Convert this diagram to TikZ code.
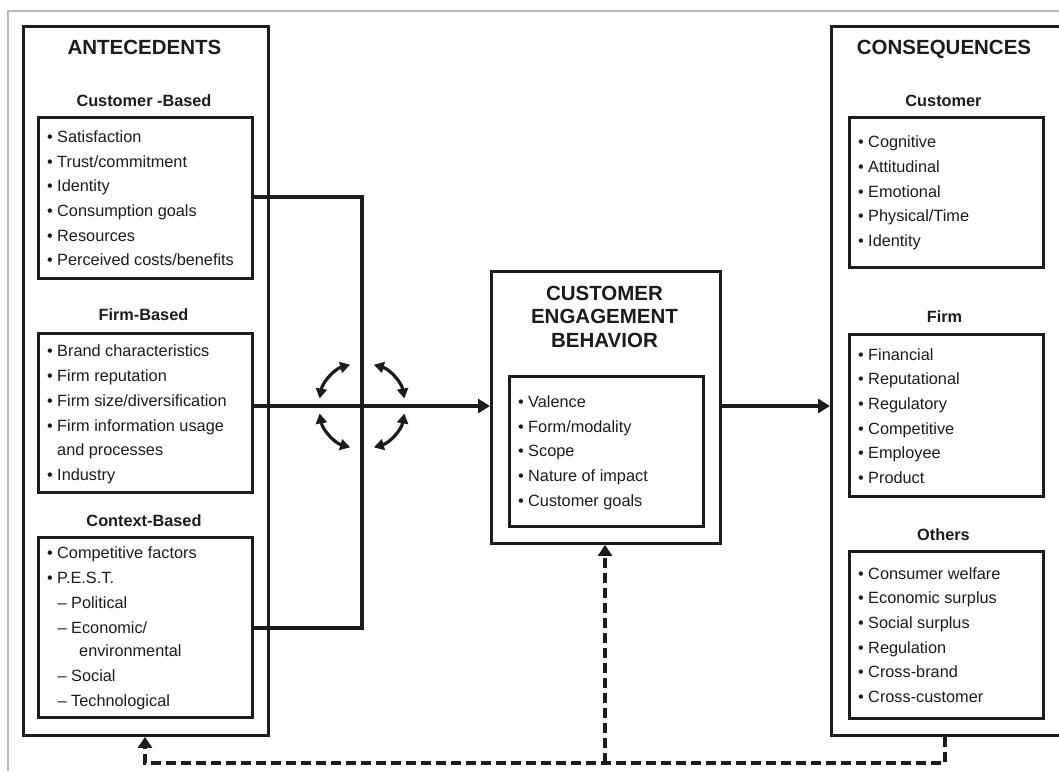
\documentclass[tikz,border=0pt]{standalone}
\usepackage{fontspec}
\setmainfont{Liberation Sans}
\usetikzlibrary{arrows.meta}
\definecolor{ink}{HTML}{1C1C1C}
\newcommand\bx[5]{\node[box, minimum width={(#4-#2)*1pt}, minimum height={(#5-#3)*1pt}] (#1) at (#2,#3) {};}
\newcommand\itm[4]{\node[itm] (#1) at (#2,#3) {#4};}
\begin{document}
\begin{tikzpicture}[x=1pt,y=-1pt,
  box/.style={draw=ink, line width=2.9pt, inner sep=0pt, anchor=north west},
  ttl/.style={font=\fontsize{20.5}{24}\selectfont\bfseries, text=ink, anchor=base, inner sep=0pt},
  sub/.style={font=\fontsize{16.3}{19}\selectfont\bfseries, text=ink, anchor=base, inner sep=0pt},
  itm/.style={font=\fontsize{16.3}{19}\selectfont, text=ink, anchor=base west, inner sep=0pt},
  link/.style={draw=ink, line width=3.2pt},
  arr/.style={link, -{Triangle[length=12pt,width=14pt]}},
  curv/.style={link, {Triangle[length=10pt,width=11pt]}-{Triangle[length=10pt,width=11pt]}},
  dsh/.style={link, dash pattern=on 10pt off 5pt, -{Triangle[length=11pt,width=14pt]}}
]
\useasboundingbox (0,0) rectangle (1059,771);
\fill[white] (0,0) rectangle (1059,771);
% outer frame (partial)
\draw[gray!55, line width=1.5pt] (8,771) -- (8,11) -- (1059,11);

% ---------- boxes ----------
\bx{ante}{22}{25}{267}{734}
\bx{custbox}{37}{116}{251}{277}
\bx{firmbox}{37}{332}{251}{491}
\bx{ctxbox}{37}{536}{251}{716}
\bx{ceb}{490}{270}{719}{542}
\bx{cebin}{508}{375}{702}{525}
\bx{cons}{830}{25}{1062}{734}
\bx{ccust}{848}{116}{1042}{266}
\bx{cfirm}{848}{333}{1042}{495}
\bx{coth}{848}{550}{1042}{717}

% ---------- headings ----------
\node[ttl] (tAnte) at (144.5,54) {ANTECEDENTS};
\node[sub] (sCust) at (144,106) {Customer -Based};
\node[sub] (sFirm) at (143.5,320.7) {Firm-Based};
\node[sub] (sCtx) at (144,526.7) {Context-Based};
\node[ttl] (tCons) at (944,54) {CONSEQUENCES};
\node[sub] (sCC) at (943.5,106) {Customer};
\node[sub] (sCF) at (944.5,322.7) {Firm};
\node[sub] (sCO) at (943.5,540) {Others};
\node[ttl] (tC1) at (604.5,300) {CUSTOMER};
\node[ttl] (tC2) at (604.5,323.5) {ENGAGEMENT};
\node[ttl] (tC3) at (604.5,347.3) {BEHAVIOR};

% ---------- antecedent items ----------
\itm{a1}{46.8}{142.7}{• Satisfaction}
\itm{a2}{46.8}{167.3}{• Trust/commitment}
\itm{a3}{46.8}{191.9}{• Identity}
\itm{a4}{46.8}{216.5}{• Consumption goals}
\itm{a5}{46.8}{241.1}{• Resources}
\itm{a6}{46.8}{265.7}{• Perceived costs/benefits}

\itm{b1}{46.8}{356}{• Brand characteristics}
\itm{b2}{46.8}{381}{• Firm reputation}
\itm{b3}{46.8}{406}{• Firm size/diversification}
\itm{b4}{46.8}{431}{• Firm information usage}
\itm{b5}{57}{455.5}{and processes}
\itm{b6}{46.8}{480}{• Industry}

\itm{c1}{46.8}{558.3}{• Competitive factors}
\itm{c2}{46.8}{583.3}{• P.E.S.T.}
\itm{c3}{57.4}{608.3}{– Political}
\itm{c4}{57.4}{633.3}{– Economic/}
\itm{c5}{79}{656.9}{environmental}
\itm{c6}{57.4}{681.7}{– Social}
\itm{c7}{57.4}{706.5}{– Technological}

% ---------- CEB items ----------
\itm{e1}{517.8}{407.7}{• Valence}
\itm{e2}{517.8}{432.3}{• Form/modality}
\itm{e3}{517.8}{456.9}{• Scope}
\itm{e4}{517.8}{481.5}{• Nature of impact}
\itm{e5}{517.8}{506.1}{• Customer goals}

% ---------- consequence items ----------
\itm{f1}{857.8}{147.7}{• Cognitive}
\itm{f2}{857.8}{172.3}{• Attitudinal}
\itm{f3}{857.8}{197}{• Emotional}
\itm{f4}{857.8}{221.6}{• Physical/Time}
\itm{f5}{857.8}{246.2}{• Identity}

\itm{g1}{857.8}{360}{• Financial}
\itm{g2}{857.8}{384.7}{• Reputational}
\itm{g3}{857.8}{409.3}{• Regulatory}
\itm{g4}{857.8}{434}{• Competitive}
\itm{g5}{857.8}{458.6}{• Employee}
\itm{g6}{857.8}{483.3}{• Product}

\itm{h1}{857.8}{579.3}{• Consumer welfare}
\itm{h2}{857.8}{603.9}{• Economic surplus}
\itm{h3}{857.8}{628.5}{• Social surplus}
\itm{h4}{857.8}{653.1}{• Regulation}
\itm{h5}{857.8}{677.7}{• Cross-brand}
\itm{h6}{857.8}{702.3}{• Cross-customer}

% ---------- connectors ----------
\coordinate (j1) at (362,197);
\coordinate (j2) at (362,628);
\coordinate (mid) at (362,406);
\draw[link] (custbox.east |- j1) -- (j1) -- (j2) -- (ctxbox.east |- j2);
\draw[arr] (firmbox.east |- mid) -- (ceb.west |- mid);
\draw[arr] (ceb.east |- mid) -- (cons.west |- mid);

% circular arrows
\draw[curv] (mid) ++(190:43) arc[start angle=190, end angle=254, radius=43];
\draw[curv] (mid) ++(286:43) arc[start angle=286, end angle=350, radius=43];
\draw[curv] (mid) ++(10:43) arc[start angle=10, end angle=74, radius=43];
\draw[curv] (mid) ++(106:43) arc[start angle=106, end angle=170, radius=43];

% dashed feedback
\coordinate (d1) at (945,763);
\coordinate (d2) at (145,763);
\coordinate (d3) at (605,763);
\draw[dsh] (cons.south -| d1) -- (d1) -- (d2) -- (ante.south -| d2);
\draw[dsh] (d3) -- (ceb.south -| d3);
\end{tikzpicture}
\end{document}
